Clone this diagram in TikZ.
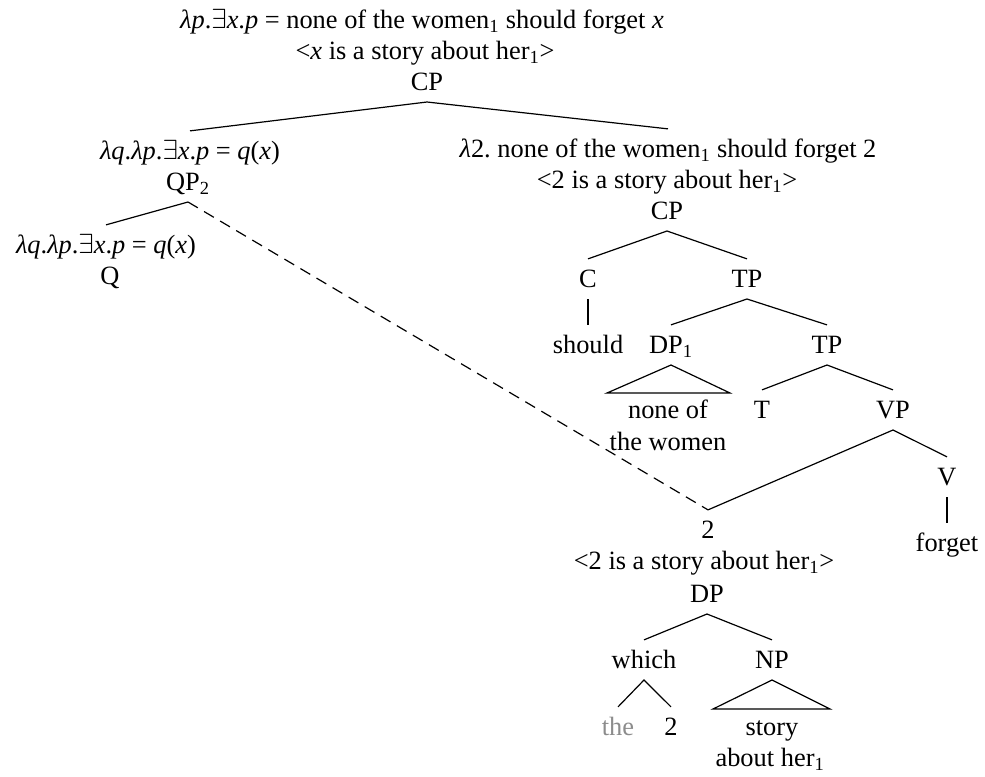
\documentclass[tikz,border=0pt]{standalone}
\usepackage{fontspec}
\setmainfont{Liberation Serif}
\frenchspacing
\newcommand{\lblfont}{\fontsize{19.8}{23}\selectfont}
\newcommand{\ex}{$\exists$}
\definecolor{ghost}{HTML}{8C8C8C}
\begin{document}
\begin{tikzpicture}[x=0.75pt,y=-0.75pt,
  lbl/.style={font=\lblfont, anchor=base, inner xsep=1pt, inner ysep=4.4pt, text height=16.5pt, text depth=4.4pt},
  branch/.style={line width=0.9pt},
  trace/.style={line width=0.9pt, dash pattern=on 8.5pt off 5.5pt}]
\useasboundingbox (0,0) rectangle (985,776);
% top
\node[lbl] (top1) at (422,28) {\textit{λp}.\ex\textit{x}.\textit{p} = none of the women\textsubscript{1} should forget \textit{x}};
\node[lbl] (top2) at (425,59) {<\textit{x} is a story about her\textsubscript{1}>};
\node[lbl] (cp0) at (427,90) {CP};
% left
\node[lbl] (qpl1) at (190,159) {\textit{λq}.\textit{λp}.\ex\textit{x}.\textit{p} = \textit{q}(\textit{x})};
\node[lbl] (qp) at (188,190) {QP\textsubscript{2}};
\node[lbl] (ql1) at (106,253) {\textit{λq}.\textit{λp}.\ex\textit{x}.\textit{p} = \textit{q}(\textit{x})};
\node[lbl] (q) at (110,284) {Q};
% right
\node[lbl] (r1) at (668,157) {\textit{λ}2. none of the women\textsubscript{1} should forget 2};
\node[lbl] (r2) at (667,188) {<2 is a story about her\textsubscript{1}>};
\node[lbl] (cp1) at (667,219) {CP};
\node[lbl] (c) at (588,287) {C};
\node[lbl] (tp1) at (747,287) {TP};
\node[lbl] (should) at (588,353) {should};
\node[lbl] (dp1) at (671,353) {DP\textsubscript{1}};
\node[lbl] (tp2) at (827,353) {TP};
\node[lbl] (noneof) at (668,418) {none of};
\node[lbl] (women) at (668,450) {the women};
\node[lbl] (t) at (762,418) {T};
\node[lbl] (vp) at (893,418) {VP};
\node[lbl] (v) at (947,485) {V};
\node[lbl] (forget) at (947,551) {forget};
\node[lbl] (two) at (708,538) {2};
\node[lbl] (two2) at (704,569) {<2 is a story about her\textsubscript{1}>};
\node[lbl] (dp) at (707,602) {DP};
\node[lbl] (which) at (644,668) {which};
\node[lbl] (np) at (772,668) {NP};
\node[lbl,text=ghost] (the) at (618,735) {the};
\node[lbl] (twob) at (671,735) {2};
\node[lbl] (story) at (772,735) {story};
\node[lbl] (about) at (770,766) {about her\textsubscript{1}};
% triangle corners
\coordinate (dptl) at (607,393);
\coordinate (dptr) at (730,393);
\coordinate (nptl) at (713,709);
\coordinate (nptr) at (830,709);
% branches
\draw[branch] (qpl1.north) -- (cp0.south) -- (r1.north);
\draw[branch] (qp.south) -- (ql1.north);
\draw[trace] (qp.south) -- (two.north);
\draw[branch] (c.north) -- (cp1.south) -- (tp1.north);
\draw[branch] (c.south) -- (should.north);
\draw[branch] (dp1.north) -- (tp1.south) -- (tp2.north);
\draw[branch] (dp1.south) -- (dptl) -- (dptr) -- cycle;
\draw[branch] (t.north) -- (tp2.south) -- (vp.north);
\draw[branch] (two.north) -- (vp.south) -- (v.north);
\draw[branch] (v.south) -- (forget.north);
\draw[branch] (which.north) -- (dp.south) -- (np.north);
\draw[branch] (the.north) -- (which.south) -- (twob.north);
\draw[branch] (np.south) -- (nptl) -- (nptr) -- cycle;
\end{tikzpicture}
\end{document}
